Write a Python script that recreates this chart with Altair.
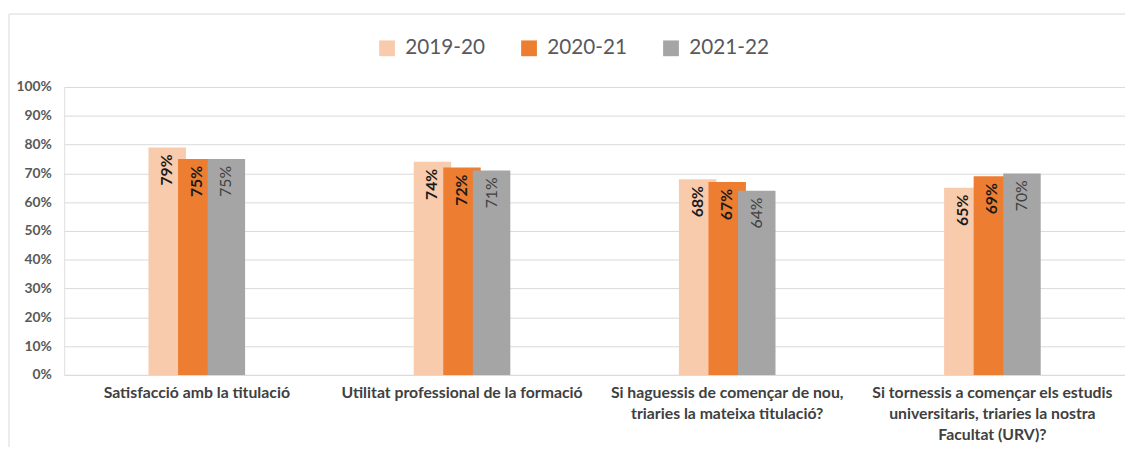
import altair as alt
import pandas as pd

categories = [
    "Satisfacció amb la titulació",
    "Utilitat professional de la formació",
    "Si haguessis de començar de nou,\ntriaries la mateixa titulació?",
    "Si tornessis a començar els estudis\nuniversitaris, triaries la nostra\nFacultat (URV)?",
]
series = ["2019-20", "2020-21", "2021-22"]
values_2019_20 = [0.79, 0.74, 0.68, 0.65]
values_2020_21 = [0.75, 0.72, 0.67, 0.69]
values_2021_22 = [0.75, 0.71, 0.64, 0.70]
colors = ["#F8CBAD", "#ED7D31", "#A5A5A5"]
y_ticks = [0, 0.1, 0.2, 0.3, 0.4, 0.5, 0.6, 0.7, 0.8, 0.9, 1.0]

rows = []
for i, cat in enumerate(categories):
    for s, vals in zip(series, [values_2019_20, values_2020_21, values_2021_22]):
        rows.append({"cat": cat, "series": s, "value": vals[i]})
df = pd.DataFrame(rows)

FONT = "Lato"
W, H = 1076, 292
PI = 1 - 90 / (W / 4)

x_enc = alt.X(
    "cat:N",
    sort=categories,
    scale=alt.Scale(paddingInner=PI, paddingOuter=PI / 2),
    axis=alt.Axis(
        title=None, labelAngle=0, labelExpr="split(datum.label, '\\n')",
        labelFontSize=16, labelFontWeight="bold", labelColor="#404040",
        labelFont=FONT, labelPadding=10, labelLimit=400, labelLineHeight=21.5,
        domain=False, ticks=False, grid=False,
    ),
)
xoff_enc = alt.XOffset("series:N", sort=series,
                       scale=alt.Scale(paddingInner=0, paddingOuter=0))
y_enc = alt.Y(
    "value:Q",
    scale=alt.Scale(domain=[0, 1]),
    axis=alt.Axis(
        title=None, format=".0%", values=y_ticks, domain=False, ticks=False,
        labelPadding=13, labelFontSize=14, labelFontWeight="bold",
        labelColor="#595959", labelFont=FONT, gridColor="#D9D9D9", gridWidth=1,
    ),
)
color_enc = alt.Color(
    "series:N",
    sort=series,
    scale=alt.Scale(domain=series, range=colors),
    legend=alt.Legend(
        title=None, orient="none", legendX=317, legendY=-50,
        direction="horizontal", symbolType="square", symbolSize=256,
        symbolStrokeWidth=0, symbolOpacity=1, labelFontSize=21,
        labelColor="#595959", labelFont=FONT, columnPadding=34, labelOffset=8,
    ),
)

border = alt.Chart(pd.DataFrame({"a": [0]})).mark_rect(
    fill="transparent", stroke="#D9D9D9", strokeWidth=1
).encode(x=alt.value(-56), x2=alt.value(W + 20), y=alt.value(-74), y2=alt.value(H + 120))

bars = alt.Chart(df).mark_bar(width=38).encode(
    x=x_enc, xOffset=xoff_enc, y=y_enc, color=color_enc
)

labels_bold = alt.Chart(df).transform_filter(
    alt.datum.series != "2021-22"
).mark_text(
    angle=270, align="right", baseline="middle", dx=-7, fontSize=16,
    fontWeight="bold", font=FONT, color="#1A1A1A",
).encode(x=x_enc, xOffset=xoff_enc, y=y_enc, text=alt.Text("value:Q", format=".0%"))

labels_norm = alt.Chart(df).transform_filter(
    alt.datum.series == "2021-22"
).mark_text(
    angle=270, align="right", baseline="middle", dx=-7, fontSize=16,
    fontWeight="normal", font=FONT, color="#404040",
).encode(x=x_enc, xOffset=xoff_enc, y=y_enc, text=alt.Text("value:Q", format=".0%"))

chart = alt.layer(border, bars, labels_bold, labels_norm).properties(
    width=W, height=H,
    autosize=alt.AutoSizeParams(type="none"),
    padding={"left": 57, "top": 77, "right": 0, "bottom": 70},
).configure_view(stroke=None).configure(background="white")

chart.save("out.html", embed_options={"renderer": "svg", "actions": False})
